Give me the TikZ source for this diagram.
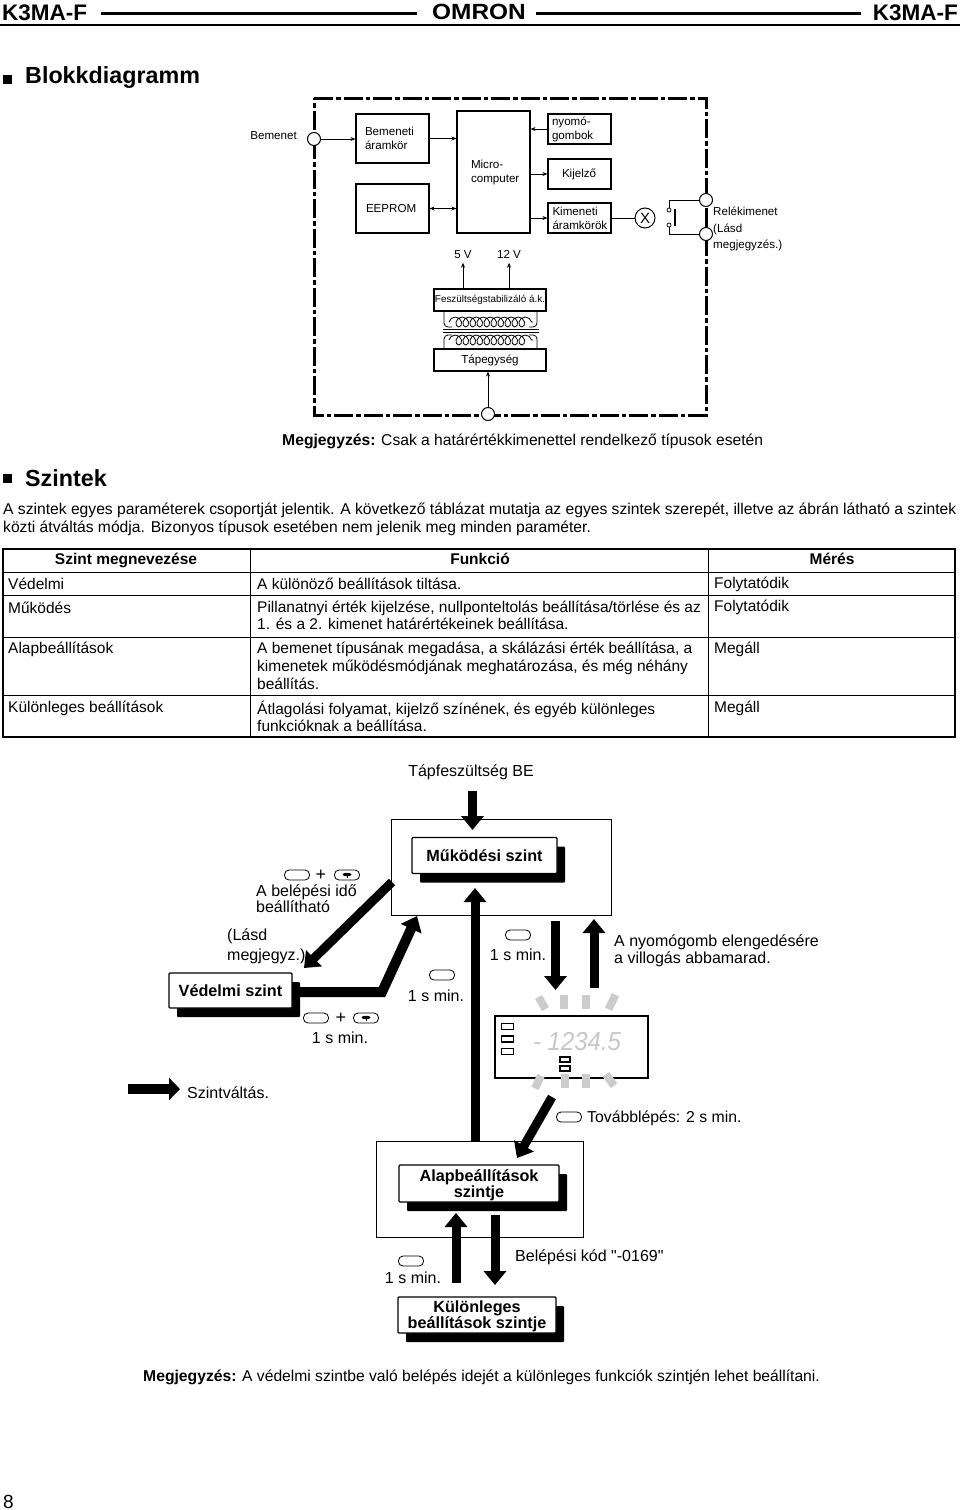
\documentclass[tikz,border=0pt]{standalone}
\usepackage{fontspec}
\setmainfont{Liberation Sans}[Ligatures=TeXOff]
\usetikzlibrary{shapes.geometric, arrows.meta, positioning, calc, shadows, decorations.pathmorphing}

\begin{document}
\begin{tikzpicture}[
    x=1pt, y=-1pt,
    blockbox/.style={rectangle, draw, line width=1.1pt, align=left, inner sep=0pt, font=\fontsize{11.6}{14}\selectfont},
    tiny/.style={font=\fontsize{9.9}{12}\selectfont, inner sep=0pt},
    small/.style={font=\fontsize{11.6}{15.5}\selectfont, inner sep=0pt, align=left},
    txt/.style={font=\fontsize{15.5}{17.7}\selectfont, inner sep=0pt, align=left, anchor=west},
    para/.style={txt, font=\fontsize{15.65}{17.9}\selectfont},
    hdr/.style={txt, font=\fontsize{15.5}{17.7}\selectfont\bfseries, anchor=center},
    big/.style={font=\fontsize{16}{16.5}\selectfont, inner sep=0pt, align=left},
    title/.style={font=\fontsize{23.3}{25}\selectfont\bfseries, inner sep=0pt, anchor=west},
    brand/.style={font=\fontsize{22.5}{23}\selectfont\bfseries, inner sep=0pt},
    port/.style={circle, draw, line width=1pt, fill=white, minimum size=13pt, inner sep=0pt},
    contact/.style={circle, draw, line width=0.7pt, minimum size=4pt, inner sep=0pt},
    lamp/.style={rectangle, draw, line width=1.4pt, minimum width=12pt, minimum height=6pt, inner sep=0pt},
    frameline/.style={line width=3pt, dash pattern=on 19pt off 3pt on 4.5pt off 3pt},
    arrow/.style={->, >={Stealth[length=5pt, width=4pt]}, line width=0.8pt},
    wire/.style={line width=0.8pt},
    levelbox/.style={rectangle, draw, line width=1.2pt, fill=white, rounded corners=1pt, align=center, inner sep=0pt,
        font=\fontsize{16.2}{16.2}\selectfont\bfseries,
        drop shadow={shadow xshift=8pt, shadow yshift=-9pt, fill=black, opacity=1}},
    levelframe/.style={rectangle, draw, line width=1pt, inner sep=0pt},
    bigarrow/.style={line width=9pt, -{Triangle[length=14pt, width=22pt]}},
    keypill/.style={rectangle, draw, line width=0.8pt, rounded corners=4.5pt, minimum width=25pt, minimum height=10pt, inner sep=0pt},
    keysign/.style={ellipse, fill=black, minimum width=9pt, minimum height=3.5pt, inner sep=0pt},
    flash/.style={line width=8pt, color=black!20},
    coil/.style={line width=0.8pt, decorate, decoration={coil, aspect=0.9, segment length=7pt, amplitude=5pt}}
]

\useasboundingbox (0,0) rectangle (960,1510);

% page header
\node[brand, anchor=west] (brandleft) at (2,13) {K3MA-F};
\node[brand, anchor=east] (brandright) at (958,13) {K3MA-F};
\node[inner sep=0pt, font=\fontsize{22}{23}\selectfont\bfseries, xscale=1.11, transform shape] (logo) at (479,12) {OMRON};
\draw[line width=3pt] (101,13) -- (417,13);
\draw[line width=3pt] (536,13) -- (861,13);
\draw[line width=2pt] (0,25) -- (960,25);

\fill (3,75) rectangle (12,84);
\node[title] (blokk) at (25,78) {Blokkdiagramm};

% block diagram
\draw[frameline] (314,98) -- (706,98) -- (706,415) -- (314,415) -- cycle;

\node[port] (bemenetport) at (314,139) {};
\node[small, anchor=east] (bemenet) at (297,136) {Bemenet};
\node[blockbox, minimum width=73pt, minimum height=49pt, text width=55pt] (bemeneti) at (392.5,138.5) {Bemeneti\\áramkör};
\node[blockbox, minimum width=73pt, minimum height=49pt, text width=53pt] (eeprom) at (392.5,208.5) {EEPROM};
\node[blockbox, minimum width=73pt, minimum height=122pt, text width=45pt] (micro) at (493.5,172) {Micro-\\\mbox{computer}};
\node[blockbox, minimum width=63pt, minimum height=30pt, text width=55pt] (nyomo) at (579.5,129) {nyomó-\\gombok};
\node[blockbox, minimum width=63pt, minimum height=30pt, text width=35pt] (kijelzo) at (579.5,174) {Kijelző};
\node[blockbox, minimum width=63pt, minimum height=30pt, text width=54pt] (kimeneti) at (579.5,218) {Kimeneti\\áramkörök};
\node[port, minimum size=20pt] (lampx) at (645,218) {\fontsize{15}{15}\selectfont X};
\node[contact] (contacta) at (669,210) {};
\node[contact] (contactb) at (669,225) {};
\node[port] (outa) at (706,200) {};
\node[port] (outb) at (706,234) {};
\node[small, anchor=west] (rele) at (713,211) {Relékimenet};
\node[small, anchor=north west] (lasd) at (713,224) {(Lásd\\megjegyzés.)};
\node[small] (fivev) at (463,254.5) {5 V};
\node[small] (twelvev) at (509,254.5) {12 V};
\node[blockbox, tiny, minimum width=112pt, minimum height=22pt, align=center] (stab) at (490,300) {Feszültségstabilizáló á.k.};
\node[blockbox, minimum width=112pt, minimum height=22pt, align=center] (tape) at (490,360) {Tápegység};
\node[port] (powerport) at (488,414) {};

\draw[arrow] (bemenetport) -- (bemenetport -| bemeneti.west);
\draw[arrow] (bemeneti) -- (bemeneti -| micro.west);
\draw[arrow] (nyomo) -- (nyomo -| micro.east);
\draw[arrow] (kijelzo -| micro.east) -- (kijelzo);
\draw[arrow] (kimeneti -| micro.east) -- (kimeneti);
\draw[arrow, <->] (eeprom) -- (eeprom -| micro.west);
\draw[wire] (kimeneti) -- (lampx);
\draw[wire] (contacta) |- (outa);
\draw[wire] (contactb) |- (outb);
\draw[line width=1.6pt] (675,209) -- (675,226);
\draw[arrow, shorten >=4pt] (stab.north -| fivev) -- (fivev);
\draw[arrow, shorten >=4pt] (stab.north -| twelvev) -- (twelvev);
\draw[arrow] (powerport) -- (powerport |- tape.south);

% transformer
\draw[wire, rounded corners=4pt] (444,311) |- (452,327);
\draw[wire, rounded corners=4pt] (537,311) |- (529,327);
\draw[wire, rounded corners=4pt] (444,349) |- (452,335);
\draw[wire, rounded corners=4pt] (537,349) |- (529,335);
\draw[wire] (443,329) -- (539,329);
\draw[wire] (443,332) -- (539,332);
\draw[coil] (449,322) -- (533,322);
\draw[coil] (449,340) -- (533,340);

% note under the block diagram
\node[para, font=\fontsize{15.7}{17}\selectfont\bfseries] (jegyzet) at (282,441) {Megjegyzés:};
\node[para] (jegyzettext) at (381,441) {Csak a határértékkimenettel rendelkező típusok esetén};

\fill (3,474) rectangle (12,483);
\node[title] (szintek) at (25,478) {Szintek};
\node[para, anchor=north west] (bevezeto) at (3,503) {A szintek egyes paraméterek csoportját jelentik. A következő táblázat mutatja az egyes szintek szerepét, illetve az ábrán látható a szintek\\közti átváltás módja. Bizonyos típusok esetében nem jelenik meg minden paraméter.};

% table
\draw[line width=2pt] (3,549) rectangle (955,737);
\draw[line width=1pt] (3,572) -- (955,572);
\draw[line width=1pt] (3,595) -- (955,595);
\draw[line width=1pt] (3,637) -- (955,637);
\draw[line width=1pt] (3,695) -- (955,695);
\draw[line width=1pt] (250,549) -- (250,737);
\draw[line width=1pt] (708,549) -- (708,737);

\node[hdr, text height=11pt, text depth=3pt] (hdrszint) at (126,560) {Szint megnevezése};
\node[hdr, text height=11pt, text depth=3pt] (hdrfunkcio) at (480,560) {Funkció};
\node[hdr, text height=11pt, text depth=3pt] (hdrmeres) at (832,560) {Mérés};

\node[txt] (vedelmi) at (8,584) {Védelmi};
\node[txt] (vedelmifn) at (257,584) {A különöző beállítások tiltása.};
\node[txt] (vedelmiout) at (714,584) {Folytatódik};
\node[txt] (mukodes) at (8,607.5) {Működés};
\node[txt, anchor=north west] (mukodesfn) at (257,600.5) {Pillanatnyi érték kijelzése, nullponteltolás beállítása/törlése és az\\1. és a 2. kimenet határértékeinek beállítása.};
\node[txt] (mukodesout) at (714,607.5) {Folytatódik};
\node[txt] (alap) at (8,649) {Alapbeállítások};
\node[txt, anchor=north west] (alapfn) at (257,642) {A bemenet típusának megadása, a skálázási érték beállítása, a\\kimenetek működésmódjának meghatározása, és még néhány\\beállítás.};
\node[txt] (alapout) at (714,649) {Megáll};
\node[txt] (kulon) at (8,708) {Különleges beállítások};
\node[txt, anchor=north west] (kulonfn) at (257,700.5) {Átlagolási folyamat, kijelző színének, és egyéb különleges\\funkcióknak a beállítása.};
\node[txt] (kulonout) at (714,708) {Megáll};

% level diagram: frames and level boxes
\node[big] (tapfesz) at (471,772) {Tápfeszültség BE};
\node[levelframe, minimum width=220pt, minimum height=96pt] (opframe) at (501,867) {};
\node[levelbox, minimum width=145pt, minimum height=36pt] (opbox) at (484.5,855.5) {Működési szint};
\node[levelbox, minimum width=123pt, minimum height=35pt] (protbox) at (230.5,990.5) {Védelmi szint};
\node[levelframe, minimum width=207pt, minimum height=96pt] (baseframe) at (479.5,1189) {};
\node[levelbox, minimum width=160pt, minimum height=37pt, text depth=0pt] (basebox) at (479,1183.5) {Alapbeállítások\\szintje};
\node[levelbox, minimum width=158pt, minimum height=36pt, text depth=0pt] (specbox) at (477,1315) {Különleges\\beállítások szintje};

% free arrow ends
\coordinate (powerin) at (472.5,791);
\coordinate (powertip) at (472.5,830);
\coordinate (backfrom) at (475,1141);
\coordinate (backtip) at (475,888);
\coordinate (downfrom) at (555.5,921);
\coordinate (downtip) at (555.5,990);
\coordinate (upfrom) at (594,988);
\coordinate (uptip) at (594,919);
\coordinate (lockfrom) at (392,882);
\coordinate (locktip) at (304,968);
\coordinate (unlockbend) at (382,992);
\coordinate (unlocktip) at (417,916);
\coordinate (nextfrom) at (552,1097);
\coordinate (nexttip) at (517,1158);
\coordinate (specupfrom) at (456,1283);
\coordinate (specuptip) at (456,1213);
\coordinate (specdownfrom) at (495,1215);
\coordinate (specdowntip) at (495,1285);
\coordinate (legendfrom) at (128,1089);
\coordinate (legendtip) at (180,1089);

\draw[bigarrow] (powerin) -- (powertip);
\draw[bigarrow] (backfrom) -- (backtip);
\draw[bigarrow] (downfrom) -- (downtip);
\draw[bigarrow] (upfrom) -- (uptip);
\draw[bigarrow] (lockfrom) -- (locktip);
\draw[bigarrow, line width=10pt] (protbox.east |- unlockbend) -- (unlockbend) -- (unlocktip);
\draw[bigarrow] (nextfrom) -- (nexttip);
\draw[bigarrow] (specupfrom) -- (specuptip);
\draw[bigarrow] (specdownfrom) -- (specdowntip);
\draw[bigarrow, line width=10pt, -{Triangle[length=11pt, width=22pt]}] (legendfrom) -- (legendtip);

% keys and their labels
\node[keypill] (keylock) at (297,875) {};
\node[big, font=\fontsize{18}{18}\selectfont] (pluslock) at (321,875) {+};
\node[keypill] (keylockb) at (347,875) {};
\node[keysign] (signlock) at (347,874.5) {};
\draw[line width=1pt] (signlock.center) -- ++(0,3.5);
\node[big, anchor=north west] (belepes) at (256,885) {A belépési idő\\[-1pt]beállítható};
\node[big, anchor=north west] (lasdb) at (227,929) {(Lásd\\[3pt]megjegyz.)};

\node[keypill] (keyunlock) at (316,1018) {};
\node[big, font=\fontsize{18}{18}\selectfont] (plusunlock) at (341,1018) {+};
\node[keypill] (keyunlockb) at (366,1018) {};
\node[keysign] (signunlock) at (366,1017.5) {};
\draw[line width=1pt] (signunlock.center) -- ++(0,3.5);
\node[big] (minunlock) at (340,1037.5) {1 s min.};

\node[keypill] (keyback) at (442,975) {};
\node[big] (minback) at (436,996) {1 s min.};
\node[keypill] (keydown) at (518,935) {};
\node[big] (mindown) at (518,955) {1 s min.};
\node[big, anchor=north west] (release) at (614,935) {A nyomógomb elengedésére\\a villogás abbamarad.};
\node[keypill] (keynext) at (569,1117) {};
\node[big, anchor=west, font=\fontsize{15.8}{16.5}\selectfont] (tovabb) at (587,1118) {Továbblépés: 2 s min.};
\node[keypill] (keyspec) at (411,1261) {};
\node[big] (minspec) at (413,1278) {1 s min.};
\node[big, anchor=west] (kod) at (515,1257) {Belépési kód "-0169"};
\node[big, anchor=west] (legendtext) at (187,1093) {Szintváltás.};

% display
\node[rectangle, draw, line width=1.5pt, minimum width=153pt, minimum height=62pt, inner sep=0pt] (display) at (571.5,1047) {};
\node[lamp] (lampa) at (507.5,1026.5) {};
\node[lamp] (lampb) at (507.5,1039) {};
\node[lamp] (lampc) at (507.5,1051.5) {};
\node[lamp, minimum width=10pt, minimum height=5pt] (lampd) at (565,1059.5) {};
\node[lamp, minimum width=10pt, minimum height=5pt] (lampe) at (565,1068.5) {};
\node[inner sep=0pt, text=black!22, font=\fontsize{26}{26}\selectfont\itshape, xscale=0.92, transform shape] (readout) at (577,1042) {- 1234.5};
\draw[flash, shift={(542,1003)}, rotate=30] (0,-7) -- (0,7);
\draw[flash, shift={(564,1002)}] (0,-7) -- (0,7);
\draw[flash, shift={(586,1002)}] (0,-7) -- (0,7);
\draw[flash, shift={(612,1002)}, rotate=-25] (0,-8) -- (0,8);
\draw[flash, shift={(538,1082)}, rotate=-25] (0,-7) -- (0,7);
\draw[flash, shift={(565,1081)}] (0,-7) -- (0,7);
\draw[flash, shift={(586,1081)}] (0,-7) -- (0,7);
\draw[flash, shift={(610,1080)}, rotate=35] (0,-7) -- (0,7);

% bottom note and page number
\node[para, font=\fontsize{15.7}{17}\selectfont\bfseries] (zarojegyzet) at (143,1377) {Megjegyzés:};
\node[para] (zarotext) at (242,1377) {A védelmi szintbe való belépés idejét a különleges funkciók szintjén lehet beállítani.};
\node[inner sep=0pt, font=\fontsize{19}{20}\selectfont, anchor=west] (pageno) at (3,1502) {8};

\end{tikzpicture}
\end{document}
